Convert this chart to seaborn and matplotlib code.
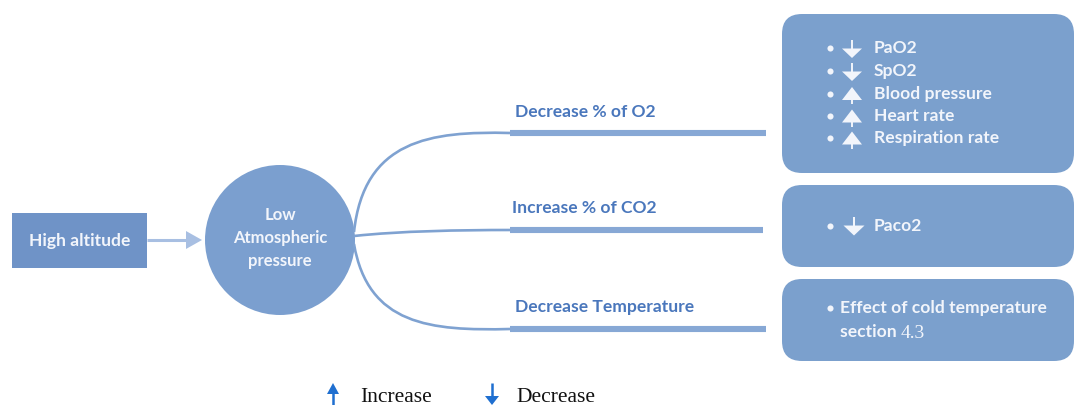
import matplotlib
matplotlib.use("Agg")
import matplotlib.pyplot as plt
import seaborn as sns
import numpy as np
from matplotlib.patches import FancyBboxPatch, Circle, Polygon, Rectangle
from matplotlib.path import Path
from matplotlib.patches import PathPatch

# ---- content ----
source_label = "High altitude"
center_label = "Low\nAtmospheric\npressure"
branch_labels = ["Decrease % of O2", "Increase % of CO2", "Decrease Temperature"]
effects_o2 = ["PaO2", "SpO2", "Blood pressure", "Heart rate", "Respiration rate"]
effects_o2_dir = ["down", "down", "up", "up", "up"]
effects_co2 = ["Paco2"]
effects_co2_dir = ["down"]
effects_temp = ["Effect of cold temperature", "section"]
section_number = "4.3"
legend_labels = ["Increase", "Decrease"]

sns.set_theme(style="white")
plt.rcParams['font.family'] = ['Lato', 'DejaVu Sans']

W, H = 1076, 405
fig = plt.figure(figsize=(W / 100, H / 100), dpi=100)
ax = fig.add_axes([0, 0, 1, 1])
ax.set_xlim(0, W)
ax.set_ylim(H, 0)
ax.axis("off")

c_src = "#6f93c7"
c_circ = "#7b9fcf"
c_box = "#7ba0cd"
c_line = "#7fa2d1"
c_bar = "#87a8d5"
c_lab = "#4a77bc"
c_white = "#f2f5fb"
c_leg = "#1f6fd0"
FS = 12.6

# source box
ax.add_patch(Rectangle((12, 213), 135, 55, facecolor=c_src, edgecolor="none"))
ax.text(79.5, 241, source_label, ha="center", va="center", color=c_white,
        fontsize=FS, fontweight="bold")
# arrow
ax.plot([147, 188], [240, 240], color="#a8bfe2", lw=2.2, solid_capstyle="butt")
ax.add_patch(Polygon([[186, 231], [186, 249], [202, 240]], closed=True,
                     facecolor="#a8bfe2", edgecolor="none"))
# circle
ax.add_patch(Circle((280, 240), 75, facecolor=c_circ, edgecolor="none"))
ax.text(280, 238, center_label, ha="center", va="center", color=c_white,
        fontsize=12, fontweight="bold", linespacing=1.55)

# branches
bar_y = [133, 230, 329]
bar_x = [(510, 766), (510, 763), (510, 766)]
ctrl = [
    [(354, 232), (364, 140), (430, 131), (510, 133)],
    [(354, 236), (400, 231), (460, 230), (510, 230)],
    [(354, 244), (368, 325), (430, 331), (510, 329)],
]
for pts in ctrl:
    path = Path(pts, [Path.MOVETO, Path.CURVE4, Path.CURVE4, Path.CURVE4])
    ax.add_patch(PathPatch(path, facecolor="none", edgecolor=c_line, lw=1.9))
for (x0, x1), y in zip(bar_x, bar_y):
    ax.plot([x0, x1], [y, y], color=c_bar, lw=4.4, solid_capstyle="butt")
label_pos = [(515, 112), (512, 208), (515, 307)]
for (x, y), t in zip(label_pos, branch_labels):
    ax.text(x, y, t, ha="left", va="center", color=c_lab, fontsize=FS,
            fontweight="bold")

# right boxes
boxes = [(782, 14, 292, 159), (782, 185, 292, 82), (782, 279, 292, 82)]
for x, y, w, h in boxes:
    ax.add_patch(FancyBboxPatch((x, y), w, h,
                                boxstyle="round,pad=0,rounding_size=20",
                                facecolor=c_box, edgecolor="none"))


def arrow(x, y, d, color, scale=1.0):
    s = scale
    if d == "down":
        ax.plot([x, x], [y - 8 * s, y + 1 * s], color=color, lw=1.4 * s,
                solid_capstyle="butt")
        ax.add_patch(Polygon([[x - 10 * s, y + 0.5 * s], [x + 10 * s, y + 0.5 * s],
                              [x, y + 10 * s]], closed=True, facecolor=color,
                             edgecolor="none"))
    else:
        ax.add_patch(Polygon([[x - 10 * s, y + 6.5 * s], [x + 10 * s, y + 6.5 * s],
                              [x, y - 6.5 * s]], closed=True, facecolor=color,
                             edgecolor="none"))
        ax.plot([x, x], [y + 6 * s, y + 10.5 * s], color=color, lw=1.4 * s,
                solid_capstyle="butt")


o2_y = [48, 71, 93.5, 116, 138]
for t, d, y in zip(effects_o2, effects_o2_dir, o2_y):
    ax.plot(830, y, "o", color=c_white, ms=4.4, mec="none")
    arrow(852, y, d, c_white)
    ax.text(874, y, t, ha="left", va="center", color=c_white, fontsize=FS,
            fontweight="bold")

for t, d in zip(effects_co2, effects_co2_dir):
    y = 226
    ax.plot(830, y, "o", color=c_white, ms=4.4, mec="none")
    arrow(854, y - 1, d, c_white, 1.05)
    ax.text(874, y, t, ha="left", va="center", color=c_white, fontsize=FS,
            fontweight="bold")

ax.plot(830, 308, "o", color=c_white, ms=4.4, mec="none")
ax.text(840, 308, effects_temp[0], ha="left", va="center", color=c_white,
        fontsize=FS, fontweight="bold")
t2 = ax.text(840, 332, effects_temp[1] + " ", ha="left", va="center",
             color=c_white, fontsize=FS, fontweight="bold")
fig.canvas.draw()
bb = t2.get_window_extent(renderer=fig.canvas.get_renderer())
xe = bb.x1
ax.text(xe, 333, section_number, ha="left", va="center", color=c_white,
        fontsize=14, family="Liberation Serif")

# legend
ax.add_patch(Polygon([[327, 394], [339, 394], [333, 383]], closed=True,
                     facecolor=c_leg, edgecolor="none"))
ax.plot([333, 333], [393, 405], color=c_leg, lw=1.8, solid_capstyle="butt")
ax.text(360, 397, legend_labels[0], ha="left", va="center", color="#111111",
        fontsize=15.5, family="Liberation Serif")
ax.plot([492, 492], [383, 397], color=c_leg, lw=1.8, solid_capstyle="butt")
ax.add_patch(Polygon([[485, 396], [499, 396], [492, 405]], closed=True,
                     facecolor=c_leg, edgecolor="none"))
ax.text(516, 397, legend_labels[1], ha="left", va="center", color="#111111",
        fontsize=15.5, family="Liberation Serif")

fig.savefig("out.png", dpi=100)
